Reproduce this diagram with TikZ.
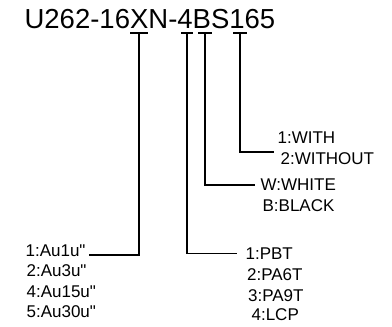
\documentclass[tikz,border=0pt]{standalone}
\usepackage{fontspec}
\setmainfont{Liberation Sans}[Ligatures=TeXOff]
\usetikzlibrary{calc}

\begin{document}
\begin{tikzpicture}[x=1pt,y=-1pt,line width=1.2pt,
	code/.style={font=\fontsize{27.5}{27.5}\selectfont,anchor=base west,inner sep=0pt},
	opt/.style={font=\fontsize{17}{17}\selectfont,anchor=base west,inner sep=0pt}]
	\useasboundingbox (0,0) rectangle (392,327);
	\draw (24,28) node(pn) [code] {U262-16XN-4BS165};
	% marks under the part number
	\coordinate (tX) at (139,33);
	\coordinate (tF) at (187,33);
	\coordinate (tB) at (205,33);
	\coordinate (tS) at (240,33);
	\draw ($(tX)+(-9,0)$) -- ($(tX)+(9,0)$);
	\draw ($(tF)+(-6,0)$) -- ($(tF)+(6,0)$);
	\draw ($(tB)+(-7,0)$) -- ($(tB)+(7,0)$);
	\draw ($(tS)+(-7,0)$) -- ($(tS)+(7,0)$);
	% plating
	\draw (25,256) node(au1) [opt] {1:Au1u"};
	\draw (26,276) node(au3) [opt] {2:Au3u"};
	\draw (26,297) node(au15) [opt] {4:Au15u"};
	\draw (26,317) node(au30) [opt] {5:Au30u"};
	\coordinate (eAu) at ($(au1.base east)+(3,-1)$);
	\draw (tX) |- (eAu);
	% housing material
	\draw (245,259) node(pbt) [opt] {1:PBT};
	\draw (246.5,280) node(pa6t) [opt] {2:PA6T};
	\draw (247.5,301) node(pa9t) [opt] {3:PA9T};
	\draw (251,320) node(lcp) [opt] {4:LCP};
	\coordinate (ePBT) at ($(pbt.west)+(-8,0)$);
	\draw (tF) |- (ePBT);
	% colour
	\draw (260,190) node(white) [opt] {W:WHITE};
	\draw (262,211) node(black) [opt] {B:BLACK};
	\coordinate (eCol) at (255,185);
	\draw (tB) |- (eCol);
	% option
	\draw (277,143.5) node(with) [opt] {1:WITH};
	\draw (280,164) node(without) [opt] {2:WITHOUT};
	\coordinate (eOpt) at (274,152);
	\draw (tS) |- (eOpt);
\end{tikzpicture}
\end{document}
